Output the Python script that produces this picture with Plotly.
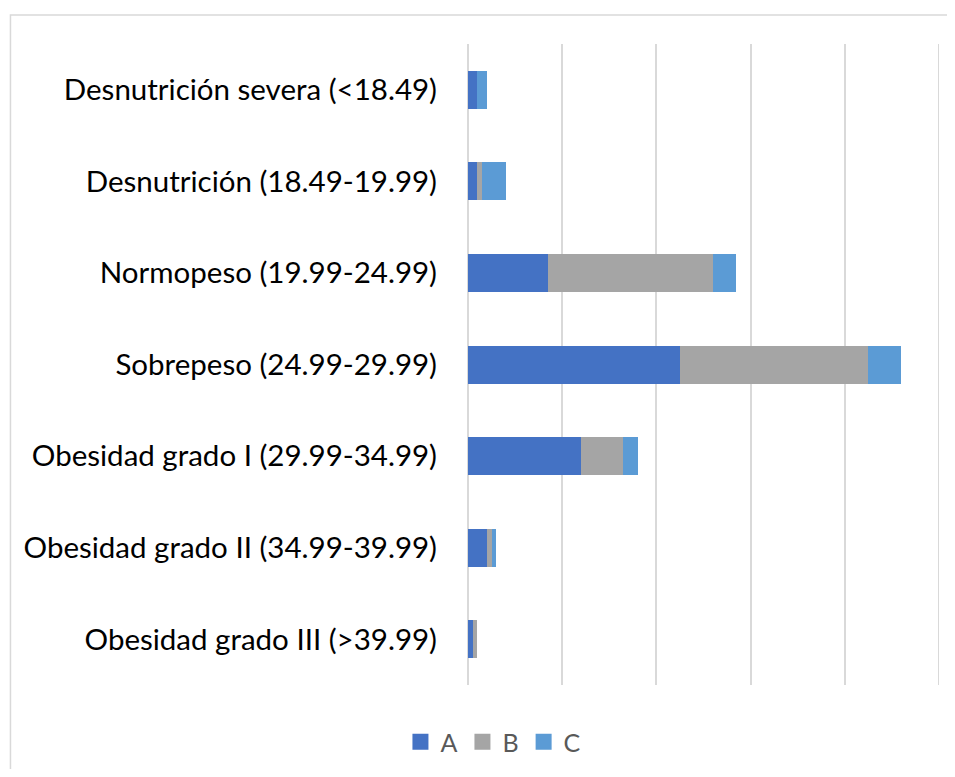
import plotly.graph_objects as go

categories = [
    "Desnutrición severa (<18.49)",
    "Desnutrición (18.49-19.99)",
    "Normopeso (19.99-24.99)",
    "Sobrepeso (24.99-29.99)",
    "Obesidad grado I (29.99-34.99)",
    "Obesidad grado II (34.99-39.99)",
    "Obesidad grado III (>39.99)",
]
series_names = ["A", "B", "C"]
values_A = [2, 2, 17, 45, 24, 4, 1]
values_B = [0, 1, 35, 40, 9, 1, 1]
values_C = [2, 5, 5, 7, 3, 1, 0]
colors = ["#4472C4", "#A5A5A5", "#5B9BD5"]
x_max = 100
x_step = 20

OFF = 8  # default page body margin
W, H = 955 - 2 * OFF, 777 - 2 * OFF
# plot area in screenshot pixels
L, R, T, B = 467.5, 939.5, 44, 685
Lf, Rf, Tf, Bf = L - OFF, R - OFF, T - OFF, B - OFF
pw = Rf - Lf
ph = Bf - Tf

fig = go.Figure()
for name, vals, col in zip(series_names, [values_A, values_B, values_C], colors):
    fig.add_trace(go.Bar(
        y=categories, x=vals, name=name, orientation="h",
        marker=dict(color=col, line=dict(width=0)),
        showlegend=False,
    ))
# legend entries with larger square swatches
for name, col in zip(series_names, colors):
    fig.add_trace(go.Scatter(
        x=[None], y=[None], mode="markers", name=name,
        marker=dict(symbol="square", size=18, color=col),
        showlegend=True, hoverinfo="skip",
    ))

fig.update_layout(
    width=W, height=H,
    margin=dict(l=Lf, r=W - Rf, t=Tf, b=H - Bf, autoexpand=False),
    barmode="stack",
    bargap=0.585,
    plot_bgcolor="white",
    paper_bgcolor="white",
    font=dict(family="Lato", color="#000000"),
    showlegend=True,
    legend=dict(
        orientation="h",
        x=(493 - OFF - Lf) / pw, xanchor="center",
        y=(Bf - (742 - OFF)) / ph, yanchor="middle",
        font=dict(size=25, color="#595959"),
        traceorder="normal",
        itemsizing="trace",
    ),
    xaxis=dict(
        range=[0, x_max], dtick=x_step, showticklabels=False,
        showgrid=True, gridcolor="#D9D9D9", gridwidth=2,
        zeroline=True, zerolinecolor="#D9D9D9", zerolinewidth=2,
        showline=False, fixedrange=True,
    ),
    yaxis=dict(
        autorange="reversed", automargin=False,
        tickfont=dict(size=29.5, color="#000000"),
        ticklabelstandoff=30, showgrid=False, showline=False, ticks="",
    ),
    shapes=[
        dict(
            type="rect", xref="paper", yref="paper",
            x0=(9 - OFF - Lf) / pw, x1=(990 - OFF - Lf) / pw,
            y0=(Bf - 820) / ph, y1=(Bf - (15 - OFF)) / ph,
            line=dict(color="#D9D9D9", width=1.5), fillcolor="rgba(0,0,0,0)",
            layer="below",
        ),
        # gridline at the range end (plotly drops edge gridlines)
        dict(
            type="line", xref="x", yref="paper",
            x0=x_max, x1=x_max, y0=0, y1=1,
            line=dict(color="#D9D9D9", width=2), layer="below",
        ),
    ],
)

fig.write_html("out.html")
